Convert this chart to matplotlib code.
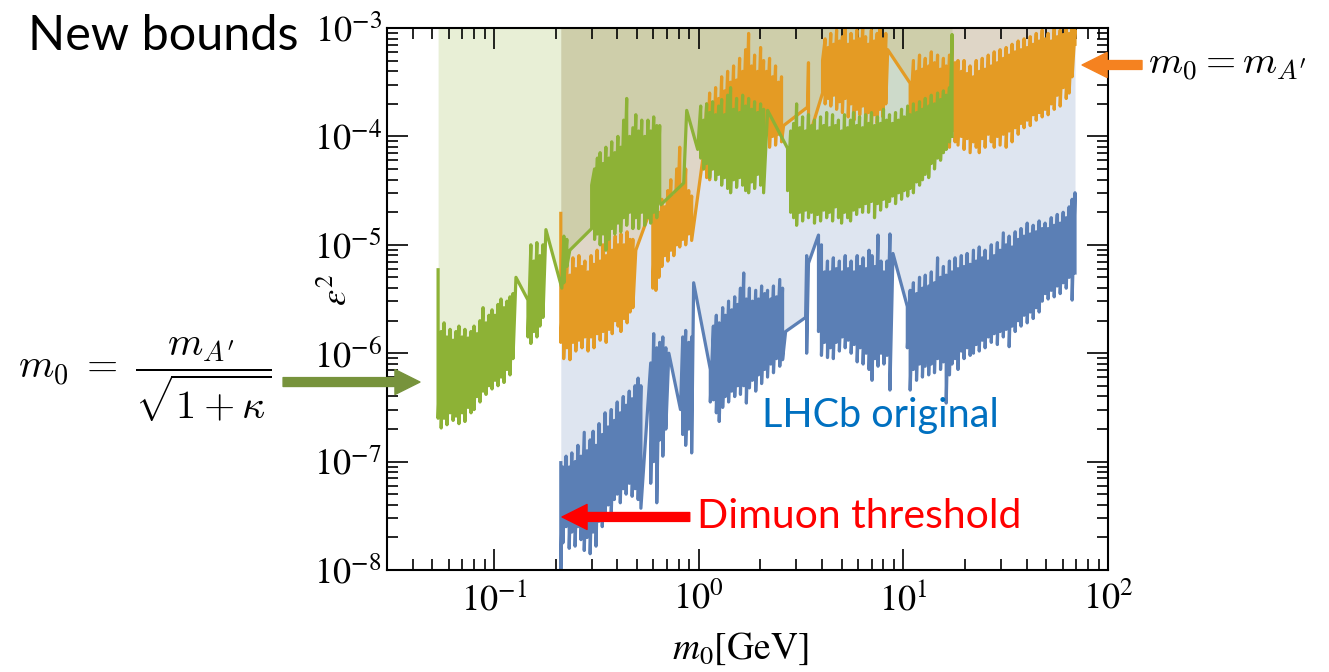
import numpy as np
import matplotlib
matplotlib.use("Agg")
import matplotlib.pyplot as plt
from matplotlib.ticker import FuncFormatter, NullFormatter

plt.rcParams["mathtext.fontset"] = "stix"
plt.rcParams["font.family"] = "STIXGeneral"

GREEN = "#8db236"
ORANGE = "#e49b24"
BLUE = "#5b7fb5"

# --- data: mass [GeV], upper / lower edge of each scan bin (log10 eps^2)
green_m = [
    0.0533, 0.0552, 0.0570, 0.0589, 0.0610, 0.0631, 0.0652, 0.0674, 0.0698, 0.0721,
    0.0747, 0.0772, 0.0799, 0.0826, 0.0854, 0.0884, 0.0914, 0.0945, 0.0978, 0.1011,
    0.1046, 0.1082, 0.1119, 0.1157, 0.1197, 0.1238,
    0.1280, 0.1465, 0.1514, 0.1566, 0.1620, 0.1675, 0.1734, 0.1793,
    0.2145, 0.2194, 0.2269, 0.2346,
    0.300, 0.310, 0.320, 0.330, 0.341, 0.352, 0.364, 0.376, 0.389, 0.403,
    0.416, 0.430, 0.445, 0.460, 0.477, 0.493, 0.509, 0.527, 0.545, 0.565,
    0.583, 0.603, 0.624, 0.645,
    0.654, 0.845, 0.874, 0.989,
    1.023, 1.058, 1.094, 1.131, 1.170, 1.210, 1.252, 1.295, 1.339, 1.385,
    1.432, 1.481, 1.532, 1.585, 1.640, 1.696, 1.754, 1.814, 1.876, 1.941,
    2.007, 2.076, 2.172,
    2.719, 2.815, 2.910, 3.010, 3.115, 3.219, 3.33, 3.44, 3.56, 3.68,
    3.81, 3.94, 4.08, 4.22, 4.36, 4.51, 4.66, 4.82, 4.99, 5.16,
    5.34, 5.52, 5.71, 5.91, 6.11, 6.32, 6.54, 6.76, 6.99, 7.23,
    7.48, 7.74, 8.00, 8.28, 8.56, 8.85, 9.16, 9.47, 9.80, 10.1,
    10.5, 10.8, 11.2, 11.6, 12.0, 12.4, 12.8, 13.3, 13.7, 14.2,
    14.7, 15.2, 15.7, 16.2, 16.8, 17.3,
]
green_hi = [
    -5.23, -5.80, -5.72, -5.85, -5.78, -5.88, -5.80, -5.75, -5.85, -5.78,
    -5.86, -5.80, -5.75, -5.82, -5.70, -5.58, -5.72, -5.65, -5.60, -5.65,
    -5.55, -5.50, -5.58, -5.52, -5.48, -5.45,
    -5.30, -5.51, -5.00, -5.15, -4.98, -5.10, -5.00, -4.86,
    -5.40, -4.92, -4.95, -5.05,
    -4.85, -4.30, -4.20, -4.15, -4.25, -4.10, -4.20, -4.05, -4.15, -4.00,
    -4.10, -3.85, -3.65, -4.00, -3.92, -3.80, -3.95, -3.85, -4.00, -3.85,
    -3.95, -3.82, -3.90, -3.90,
    -4.63, -4.43, -3.76, -4.12,
    -3.72, -3.85, -3.70, -3.78, -3.68, -3.80, -3.72, -3.66, -3.80, -3.62,
    -3.55, -3.75, -3.65, -3.78, -3.62, -3.72, -3.65, -3.75, -3.68, -3.78,
    -3.70, -3.75, -3.76,
    -4.11, -3.95, -3.88, -3.70, -3.92, -3.82, -3.95, -3.80, -3.90, -3.85,
    -3.95, -3.82, -3.90, -3.78, -3.92, -3.80, -3.90, -3.85, -3.95, -3.80,
    -3.92, -3.85, -3.78, -3.90, -3.82, -3.92, -3.80, -3.88, -3.78, -3.90,
    -3.82, -3.88, -3.75, -3.85, -3.80, -3.88, -3.78, -3.85, -3.75, -3.82,
    -3.72, -3.80, -3.70, -3.78, -3.68, -3.75, -3.65, -3.72, -3.62, -3.70,
    -3.60, -3.66, -3.58, -3.62, -3.55, -3.06,
]
green_lo = [
    -6.60, -6.69, -6.60, -6.66, -6.55, -6.62, -6.58, -6.65, -6.55, -6.63,
    -6.50, -6.55, -6.52, -6.40, -6.45, -6.35, -6.38, -6.30, -6.33, -6.25,
    -6.30, -6.22, -6.27, -6.15, -6.20, -6.05,
    -5.30, -5.85, -5.91, -5.80, -5.85, -5.75, -5.67, -4.86,
    -5.40, -5.35, -5.20, -5.05,
    -4.45, -4.95, -4.90, -5.00, -4.90, -5.05, -4.95, -4.85, -4.90, -4.80,
    -4.88, -4.75, -4.82, -4.70, -4.85, -4.75, -4.85, -4.70, -4.82, -4.75,
    -4.80, -4.70, -4.75, -4.60,
    -4.63, -4.43, -3.76, -4.12,
    -4.20, -4.30, -4.25, -4.38, -4.30, -4.40, -4.35, -4.45, -4.38, -4.48,
    -4.52, -4.40, -4.47, -4.38, -4.45, -4.50, -4.52, -4.42, -4.48, -4.35,
    -4.45, -4.52, -3.76,
    -4.50, -4.70, -4.75, -4.82, -4.70, -4.78, -4.68, -4.75, -4.70, -4.80,
    -4.72, -4.78, -4.68, -4.75, -4.70, -4.78, -4.65, -4.75, -4.80, -4.70,
    -4.75, -4.78, -4.68, -4.72, -4.65, -4.70, -4.62, -4.70, -4.60, -4.75,
    -4.62, -4.68, -4.58, -4.65, -4.60, -4.55, -4.62, -4.52, -4.58, -4.50,
    -4.55, -4.48, -4.52, -4.42, -4.45, -4.40, -4.35, -4.38, -4.25, -4.30,
    -4.20, -4.22, -4.15, -4.12, -4.05, -4.00,
]

orange_m = [
    0.212, 0.219, 0.227, 0.235, 0.243, 0.251, 0.260, 0.269, 0.278, 0.288,
    0.298, 0.308, 0.319, 0.330, 0.341, 0.353, 0.365, 0.378, 0.391, 0.404,
    0.417, 0.432, 0.447, 0.462, 0.477,
    0.493,
    0.597, 0.618, 0.639, 0.661, 0.683, 0.707, 0.731, 0.756, 0.781, 0.808,
    0.836, 0.864, 0.894, 0.924,
    1.058, 1.094, 1.131, 1.170, 1.210, 1.252, 1.295, 1.339, 1.385, 1.432,
    1.481, 1.532, 1.585, 1.640, 1.696, 1.754, 1.814, 1.876, 1.941, 2.007,
    2.076, 2.147, 2.220, 2.297, 2.375, 2.456, 2.540, 2.60,
    3.40, 3.44, 3.52,
    4.03, 4.15, 4.29, 4.42, 4.57, 4.72, 4.88, 5.04, 5.20, 5.38,
    5.55, 5.74, 5.93, 6.12, 6.33, 6.54, 6.75, 6.98, 7.21, 7.45,
    7.69, 7.95, 8.21, 8.39,
    10.8, 11.2, 11.6, 12.0, 12.4, 12.8, 13.3, 13.7, 14.2, 14.7,
    15.2, 15.7, 16.2, 16.8, 17.3, 17.9, 18.5, 19.2, 19.8, 20.5,
    21.2, 22.0, 22.7, 23.5, 24.3, 25.1, 26.0, 26.9, 27.8, 28.8,
    29.7, 30.8, 31.8, 32.9, 34.0, 35.2, 36.4, 37.6, 38.9, 40.3,
    41.7, 43.1, 44.6, 46.1, 47.7, 49.3, 51.0, 52.8, 54.6, 56.5,
    58.4, 60.4, 62.5, 64.6, 66.8, 69.0,
]
orange_hi = [
    -4.71, -5.25, -5.15, -5.28, -5.12, -5.22, -5.10, -5.20, -5.15, -5.25,
    -5.10, -5.18, -5.05, -5.15, -5.00, -5.10, -4.95, -5.05, -4.92, -5.00,
    -4.90, -5.00, -4.88, -4.95, -4.95,
    -5.05,
    -4.62, -4.55, -4.70, -4.58, -4.65, -4.50, -4.40, -4.55, -4.30, -4.10,
    -4.45, -4.30, -4.50, -4.55,
    -4.15, -3.70, -3.60, -3.75, -3.55, -3.65, -3.45, -3.58, -3.40, -3.50,
    -3.35, -3.48, -3.28, -3.40, -3.20, -3.05, -3.35, -3.25, -3.40, -3.18,
    -3.30, -3.40, -3.28, -3.45, -3.35, -3.50, -3.45, -3.90,
    -3.73, -3.32, -3.96,
    -3.60, -3.10, -3.18, -3.05, -3.15, -3.02, -3.12, -3.08, -3.00, -3.15,
    -3.05, -3.12, -3.02, -3.10, -3.00, -3.08, -3.15, -3.02, -3.12, -3.05,
    -3.00, -3.10, -3.05, -3.20,
    -3.51, -3.30, -3.40, -3.25, -3.38, -3.28, -3.35, -3.22, -3.32, -3.25,
    -3.38, -3.28, -3.35, -3.25, -3.10, -3.32, -3.30, -3.40, -3.30, -3.42,
    -3.35, -3.45, -3.30, -3.40, -3.28, -3.38, -3.25, -3.35, -3.22, -3.32,
    -3.20, -3.28, -3.18, -3.25, -3.15, -3.22, -3.12, -3.20, -3.10, -3.18,
    -3.08, -3.15, -3.05, -3.12, -3.02, -3.10, -3.05, -3.12, -3.00, -3.08,
    -3.02, -3.06, -2.98, -3.05, -3.00, -3.02,
]
orange_lo = [
    -5.90, -6.05, -5.95, -6.06, -5.90, -5.98, -5.88, -5.95, -5.85, -5.98,
    -5.85, -5.95, -5.82, -5.88, -5.80, -5.90, -5.78, -5.82, -5.70, -5.75,
    -5.80, -5.68, -5.72, -5.62, -5.58,
    -5.05,
    -5.40, -5.42, -5.30, -5.20, -5.10, -5.15, -5.05, -5.10, -5.00, -5.02,
    -4.95, -5.00, -4.90, -4.96,
    -4.30, -4.38, -4.40, -4.30, -4.35, -4.25, -4.30, -4.20, -4.25, -4.15,
    -4.20, -4.10, -4.15, -4.05, -4.12, -4.02, -4.10, -4.00, -4.08, -3.98,
    -4.05, -3.95, -4.10, -4.00, -4.08, -3.98, -4.05, -3.90,
    -3.73, -3.98, -3.96,
    -3.30, -3.70, -3.65, -3.72, -3.62, -3.75, -3.68, -3.78, -3.65, -3.82,
    -3.70, -3.85, -3.75, -3.80, -3.72, -3.90, -3.78, -3.94, -3.80, -3.88,
    -3.75, -3.82, -3.70, -3.20,
    -3.85, -3.92, -3.85, -3.95, -3.88, -4.05, -3.95, -4.22, -4.00, -4.10,
    -3.98, -4.12, -4.05, -4.10, -3.95, -4.05, -4.08, -4.00, -4.12, -4.02,
    -4.15, -4.05, -4.10, -4.15, -4.02, -4.10, -3.98, -4.05, -4.10, -4.00,
    -4.08, -3.98, -4.10, -3.95, -4.05, -3.92, -3.98, -3.88, -3.92, -3.85,
    -3.90, -3.80, -3.85, -3.78, -3.82, -3.75, -3.80, -3.70, -3.75, -3.62,
    -3.72, -3.55, -3.65, -3.60, -3.45, -3.15,
]

blue_m = [
    0.212, 0.217, 0.225, 0.233, 0.240, 0.249, 0.257, 0.266, 0.276, 0.285,
    0.295, 0.305, 0.315, 0.326, 0.338, 0.349, 0.361, 0.374, 0.387, 0.400,
    0.414, 0.428, 0.442, 0.458, 0.473, 0.489, 0.506, 0.522,
    0.583, 0.603, 0.624, 0.645, 0.668, 0.691, 0.715,
    0.815,
    0.836, 0.864, 0.894, 0.924, 0.945,
    1.14, 1.18, 1.22, 1.26, 1.31, 1.35, 1.40, 1.45, 1.50, 1.55,
    1.60, 1.66, 1.71, 1.77, 1.83, 1.90, 1.96, 2.03, 2.10, 2.17,
    2.25, 2.32, 2.40, 2.49, 2.57, 2.66,
    3.33, 3.37, 3.44,
    3.85, 3.98, 4.12, 4.26, 4.40, 4.55, 4.70, 4.87, 5.03, 5.20,
    5.38, 5.56, 5.75, 5.95, 6.15, 6.36, 6.58, 6.80, 7.03, 7.27,
    7.52, 7.78, 8.04, 8.32, 8.60,
    8.90,
    10.46, 10.8, 11.2, 11.6, 12.0, 12.4, 12.8, 13.3, 13.7, 14.2,
    14.7, 15.2, 15.7, 16.2, 16.8, 17.3, 17.9, 18.5, 19.2, 19.8,
    20.5, 21.2, 22.0, 22.7, 23.5, 24.3, 25.1, 26.0, 26.9, 27.8,
    28.8, 29.7, 30.8, 31.8, 32.9, 34.0, 35.2, 36.4, 37.6, 38.9,
    40.3, 41.7, 43.1, 44.6, 46.1, 47.7, 49.3, 51.0, 52.8, 54.6,
    56.5, 58.4, 60.4, 62.5, 64.6, 66.8, 69.0,
]
blue_hi = [
    -7.01, -7.05, -6.95, -7.05, -6.92, -7.00, -6.85, -6.95, -6.73, -6.90,
    -6.80, -6.72, -6.85, -6.65, -6.75, -6.55, -6.68, -6.52, -6.62, -6.45,
    -6.55, -6.40, -6.48, -6.35, -6.42, -6.30, -6.23, -6.30,
    -6.09, -5.82, -5.95, -5.90, -5.85, -5.95, -6.00,
    -6.52,
    -5.85, -5.79, -5.90, -5.85, -5.35,
    -6.15, -5.75, -5.65, -5.72, -5.58, -5.65, -5.52, -5.60, -5.48, -5.55,
    -5.40, -5.26, -5.50, -5.40, -5.52, -5.42, -5.50, -5.38, -5.45, -5.42,
    -5.50, -5.38, -5.48, -5.32, -5.40, -5.80,
    -5.67, -5.10, -5.17,
    -4.91, -5.00, -5.25, -5.15, -5.25, -5.12, -5.22, -5.15, -5.25, -5.10,
    -5.22, -5.15, -5.25, -5.10, -5.20, -5.12, -5.22, -5.05, -5.10, -5.20,
    -4.91, -5.15, -5.25, -5.15, -4.90,
    -5.08,
    -5.57, -5.42, -5.35, -5.45, -5.30, -5.40, -5.28, -5.38, -5.25, -5.35,
    -5.12, -5.30, -5.20, -5.28, -5.15, -5.25, -5.12, -5.22, -5.10, -5.20,
    -5.08, -5.18, -5.05, -5.15, -5.02, -5.12, -5.05, -5.15, -5.00, -5.10,
    -4.98, -5.05, -4.89, -5.00, -4.92, -5.02, -4.88, -4.95, -4.85, -4.92,
    -4.80, -4.90, -4.82, -4.88, -4.78, -4.85, -4.80, -4.85, -4.75, -4.82,
    -4.72, -4.80, -4.70, -4.75, -4.65, -4.58, -4.52,
]
blue_lo = [
    -8.05, -7.75, -7.60, -7.80, -7.65, -7.78, -7.60, -7.72, -7.82, -7.70,
    -7.85, -7.65, -7.78, -7.55, -7.60, -7.50, -7.40, -7.47, -7.35, -7.30,
    -7.38, -7.25, -7.30, -7.20, -7.32, -7.25, -7.35, -7.43,
    -7.20, -7.00, -7.38, -6.80, -6.95, -6.70, -6.00,
    -6.52,
    -6.75, -6.85, -6.70, -6.92, -5.35,
    -6.45, -6.43, -6.55, -6.63, -6.50, -6.40, -6.45, -6.35, -6.40, -6.30,
    -6.38, -6.30, -6.46, -6.32, -6.25, -6.35, -6.20, -6.28, -6.15, -6.22,
    -6.10, -6.18, -6.05, -6.12, -6.06, -5.80,
    -5.67, -6.00, -5.17,
    -5.80, -6.02, -5.90, -6.04, -5.95, -6.05, -5.90, -5.98, -5.85, -5.95,
    -5.88, -6.00, -5.92, -6.08, -5.95, -6.10, -6.00, -6.15, -6.25, -6.05,
    -6.12, -6.00, -6.10, -6.02, -6.34,
    -5.08,
    -5.95, -6.34, -6.15, -6.25, -6.10, -6.22, -6.12, -6.20, -6.10, -6.18,
    -6.05, -6.15, -6.08, -6.46, -6.20, -6.10, -6.05, -6.15, -5.98, -6.05,
    -5.95, -6.02, -6.00, -5.92, -5.98, -5.88, -5.95, -5.85, -5.90, -5.82,
    -5.92, -5.80, -5.85, -5.78, -5.94, -5.75, -5.80, -5.70, -5.75, -5.65,
    -5.72, -5.62, -5.68, -5.58, -5.62, -5.52, -5.45, -5.50, -5.42, -5.48,
    -5.38, -5.45, -5.35, -5.40, -5.30, -5.51, -5.26,
]

EPS2_TOP = 1e-3


def zigzag(m, hi, lo):
    """each mass bin drawn as a vertical stroke from its upper to its lower edge"""
    assert len(m) == len(hi) == len(lo)
    x = np.repeat(np.asarray(m, dtype=float), 2)
    y = 10.0 ** np.column_stack([hi, lo]).ravel()
    return x, y


fig = plt.figure(figsize=(13.29, 6.72), dpi=100)
ax = fig.add_axes([0.2912, 0.1518, 0.5425, 0.8065])

curves = [
    (blue_m, blue_hi, blue_lo, BLUE),
    (orange_m, orange_hi, orange_lo, ORANGE),
    (green_m, green_hi, green_lo, GREEN),
]
lines = [(zigzag(m, hi, lo), c) for m, hi, lo, c in curves]

for (x, y), c in lines:
    ax.fill_between(x, y, EPS2_TOP, color=c, alpha=0.2, lw=0, zorder=1)
for (x, y), c in lines:
    ax.plot(x, y, color=c, lw=2.3, zorder=2)

ax.set_xscale("log")
ax.set_yscale("log")
ax.set_xlim(0.03, 100)
ax.set_ylim(1e-8, 1e-3)

pow10 = FuncFormatter(lambda v, p: rf"$10^{{{int(round(np.log10(v)))}}}$")
ax.xaxis.set_major_formatter(pow10)
ax.yaxis.set_major_formatter(pow10)
ax.xaxis.set_minor_formatter(NullFormatter())
ax.yaxis.set_minor_formatter(NullFormatter())
ax.tick_params(which="both", direction="in", top=True, right=True,
               width=1.2, labelsize=26)
ax.tick_params(which="major", length=15)
ax.tick_params(which="minor", length=8)
ax.tick_params(axis="x", pad=9)
ax.tick_params(axis="y", pad=4)
for s in ax.spines.values():
    s.set_linewidth(1.5)

ax.set_xlabel(r"$m_0[\mathrm{GeV}]$", fontsize=27)
ax.xaxis.set_label_coords(0.49, -0.112)
fig.text(338 / 1329, 1 - 290 / 672, r"$\epsilon^2$", fontsize=26, rotation=90,
         ha="center", va="center")

# annotations
fig.text(0.021, 0.946, "New bounds", family="Lato", fontsize=35,
         ha="left", va="center")
fig.text(0.864, 0.903, r"$m_0 = m_{A'}$", fontsize=28, math_fontfamily="cm",
         ha="left", va="center")
fig.text(0.0135, 0.4345, r"$m_0\;=\;\dfrac{m_{A'}}{\sqrt{1+\kappa}}$", fontsize=29,
         math_fontfamily="cm", ha="left", va="center")
fig.text(0.5734, 0.3824, "LHCb original", family="Lato", fontsize=28.5,
         color="#0070c0", ha="left", va="center")
fig.text(0.5245, 0.2307, "Dimuon threshold", family="Lato", fontsize=29.5,
         color="#ff0000", ha="left", va="center")

arrows = [
    ((0.8593, 0.9033), (0.8142, 0.9033), "#f58220"),
    ((0.2130, 0.4315), (0.3160, 0.4315), "#77933c"),
    ((0.5190, 0.2307), (0.4229, 0.2307), "#ff0000"),
]
for tail, head, c in arrows:
    ax.annotate("", xy=head, xytext=tail, xycoords="figure fraction",
                textcoords="figure fraction", annotation_clip=False,
                arrowprops=dict(arrowstyle="simple,head_length=0.9,head_width=0.9,tail_width=0.32",
                                color=c, shrinkA=0, shrinkB=0, mutation_scale=20))

fig.savefig("out.png", dpi=100)
